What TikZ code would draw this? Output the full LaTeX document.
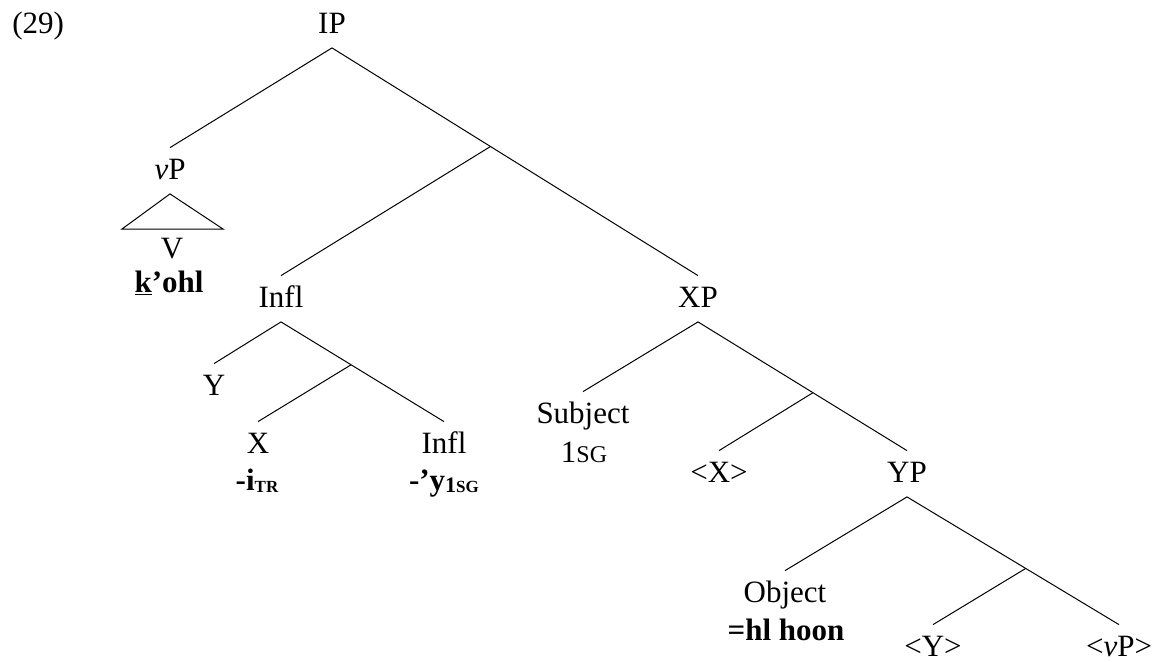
\documentclass[tikz,border=0pt]{standalone}
\usepackage{fontspec}
\setmainfont{Liberation Serif}
\usetikzlibrary{calc}
\newcommand\subSC[1]{\raisebox{-1pt}{\fontsize{8.5}{9}\selectfont\bfseries #1}}
\newcommand\subNum[1]{\raisebox{-1pt}{\fontsize{11}{12}\selectfont\bfseries #1}}
\newcommand\glSC[1]{{\fontsize{12}{13}\selectfont #1}}
\begin{document}
\begin{tikzpicture}[x=0.5pt,y=-0.5pt,
  lab/.style={anchor=base,inner sep=0pt,text height=15.5pt,text depth=7.25pt,font=\fontsize{15.5}{18}\selectfont},
  leaf/.style={anchor=base,inner sep=0pt,text height=15.5pt,text depth=0.5pt,font=\fontsize{15.5}{18}\selectfont},
  gl/.style={anchor=base,inner sep=0pt,font=\fontsize{15.5}{18}\selectfont\bfseries},
  glr/.style={anchor=base,inner sep=0pt,font=\fontsize{15.5}{18}\selectfont},
  edge/.style={line width=0.5pt}]
\useasboundingbox (0,0) rectangle (1157,661);
% example number
\node[glr,anchor=base west] (num) at (12,33) {(29)};
% labels
\node[lab] (IP) at (332,33) {IP};
\node[lab] (vP) at (170,179) {\textit{v}P};
\node[lab] (V) at (172,258) {V};
\node[gl] (kohl) at (169,292) {\underline{k}’ohl};
\node[lab] (Infl) at (281,307) {Infl};
\node[lab] (XP) at (698,307) {XP};
\node[lab] (Y) at (214,395) {Y};
\node[lab] (X) at (258,453) {X};
\node[gl] (itr) at (257,490) {-i\subSC{TR}};
\node[lab] (Infl2) at (444,453) {Infl};
\node[gl] (ysg) at (444,490) {-’y\subNum{1}\subSC{SG}};
\node[lab] (Subj) at (583,423) {Subject};
\node[glr] (sg) at (584,462) {1\glSC{SG}};
\node[lab] (Xt) at (719,482) {<X>};
\node[lab] (YP) at (907,482) {YP};
\node[lab] (Obj) at (785,602) {Object};
\node[gl] (hoon) at (786,640) {=hl hoon};
\node[leaf] (Yt) at (933,656) {<Y>};
\node[leaf] (vPt) at (1119,656) {<\textit{v}P>};
% branch points
\coordinate (b1) at ($(IP.south)!0.433!(XP.north)$);
\coordinate (b2) at ($(Infl.south)!0.43!(Infl2.north)$);
\coordinate (b3) at ($(XP.south)!0.55!(YP.north)$);
\coordinate (b4) at ($(YP.south)!0.56!(vPt.north)$);
\coordinate (tl) at (122,229);
\coordinate (tr) at (223,229);
% edges
\draw[edge] (IP.south) -- (vP.north);
\draw[edge] (IP.south) -- (XP.north);
\draw[edge] (b1) -- (Infl.north);
\draw[edge] (vP.south) -- (tl) -- (tr) -- cycle;
\draw[edge] (Infl.south) -- (Y.north);
\draw[edge] (Infl.south) -- (Infl2.north);
\draw[edge] (b2) -- (X.north);
\draw[edge] (XP.south) -- (Subj.north);
\draw[edge] (XP.south) -- (YP.north);
\draw[edge] (b3) -- (Xt.north);
\draw[edge] (YP.south) -- (Obj.north);
\draw[edge] (YP.south) -- (vPt.north);
\draw[edge] (b4) -- (Yt.north);
\end{tikzpicture}
\end{document}
